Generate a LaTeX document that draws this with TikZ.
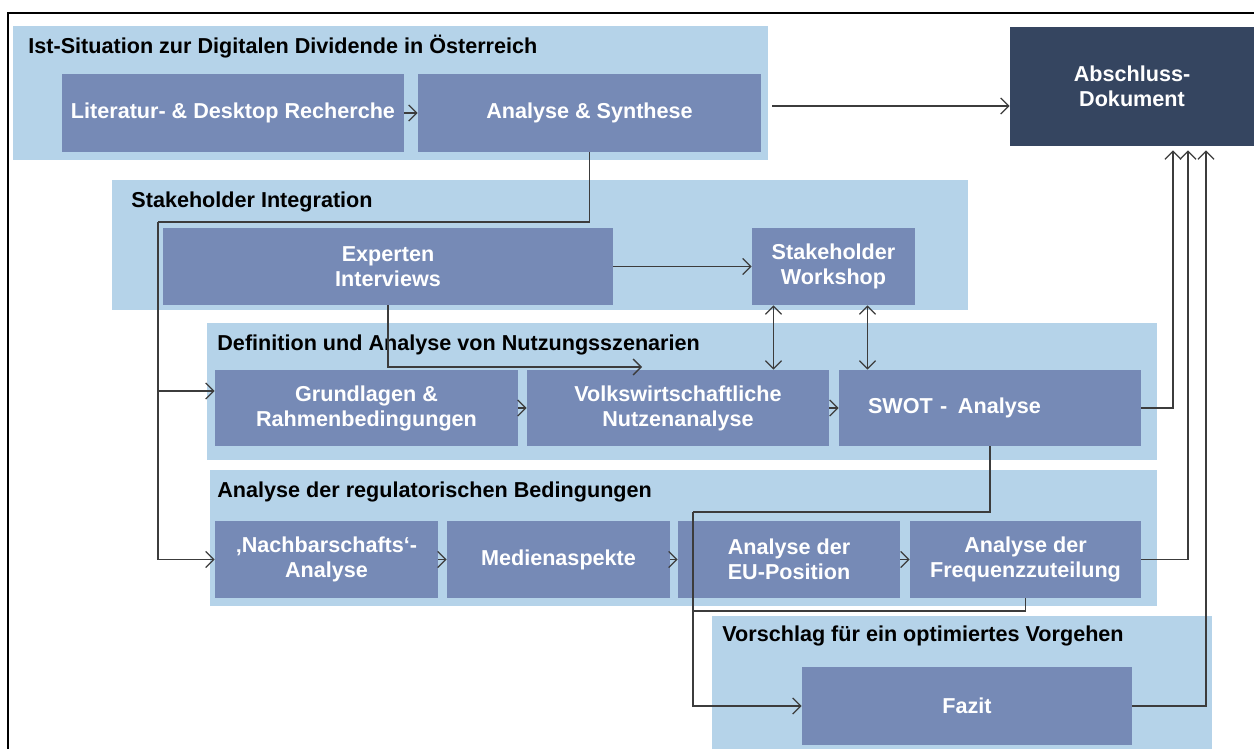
\documentclass[tikz,border=0pt]{standalone}
\usepackage{fontspec}
\setmainfont{Liberation Sans}
\usetikzlibrary{arrows.meta}
\definecolor{grpblue}{RGB}{181,211,233}
\definecolor{boxblue}{RGB}{118,138,182}
\definecolor{docnavy}{RGB}{53,69,96}
\definecolor{linegray}{RGB}{60,60,60}

\begin{document}
\begin{tikzpicture}[
    x=0.5pt, y=-0.5pt,
    grp/.style={rectangle, fill=grpblue, inner sep=0pt},
    box/.style={rectangle, fill=boxblue, text=white, inner sep=0pt, align=center, font=\fontsize{10.8}{12.5}\selectfont\bfseries},
    grptitle/.style={anchor=west, inner sep=0pt, font=\fontsize{10.8}{12.5}\selectfont\bfseries},
    link/.style={draw=linegray, line width=0.65pt},
    arrow/.style={link, -{Straight Barb[length=4pt, width=8pt]}},
    dblarrow/.style={link, {Straight Barb[length=4pt, width=8pt]}-{Straight Barb[length=4pt, width=8pt]}}
]
    \useasboundingbox (0,0) rectangle (1254,749);
    % Frame
    \draw[line width=0.8pt] (8,749) -- (8,13) -- (1254,13);

    % Ist-Situation
    \node[grp, minimum width=377.5pt, minimum height=67pt] (g1) at (390.5,93) {};
    \node[grptitle] (t1) at (28,47) {Ist-Situation zur Digitalen Dividende in Österreich};
    \node[box, minimum width=171pt, minimum height=39pt] (lit) at (233,113) {Literatur- \& Desktop Recherche};
    \node[box, minimum width=171.5pt, minimum height=39pt] (ana) at (589.5,113) {Analyse \& Synthese};

    % Abschluss
    \node[box, fill=docnavy, minimum width=122pt, minimum height=59.5pt] (doc) at (1132,86.5) {Abschluss-\\Dokument};

    % Stakeholder Integration
    \node[grp, minimum width=428pt, minimum height=65pt] (g2) at (540,245) {};
    \node[grptitle] (t2) at (131,202) {Stakeholder Integration};
    \node[box, minimum width=225pt, minimum height=38.5pt] (exp) at (388,266.5) {Experten\\Interviews};
    \node[box, minimum width=81.5pt, minimum height=38.5pt] (ws) at (833.5,266.5) {Stakeholder\\Workshop};

    % Nutzungsszenarien
    \node[grp, minimum width=475pt, minimum height=68.5pt] (g3) at (682,391.5) {};
    \node[grptitle] (t3) at (217,345) {Definition und Analyse von Nutzungsszenarien};
    \node[box, minimum width=151.5pt, minimum height=38pt] (grd) at (366.5,408) {Grundlagen \&\\Rahmenbedingungen};
    \node[box, minimum width=151pt, minimum height=38pt] (vwn) at (678,408) {Volkswirtschaftliche\\Nutzenanalyse};
    \node[box, minimum height=38pt, inner xsep=14.5pt, text width=122pt, align=left] (swot) at (990,408) {SWOT -\enspace Analyse};

    % Regulatorische Bedingungen
    \node[grp, minimum width=473.5pt, minimum height=68pt] (g4) at (683.5,538) {};
    \node[grptitle] (t4) at (217,492) {Analyse der regulatorischen Bedingungen};
    \node[box, minimum width=111.5pt, minimum height=38.5pt] (nach) at (326.5,559.5) {‚Nachbarschafts‘-\\Analyse};
    \node[box, minimum width=111.5pt, minimum height=38.5pt] (med) at (558.5,559.5) {Medienaspekte};
    \node[box, minimum width=111pt, minimum height=38.5pt] (eu) at (789,559.5) {Analyse der\\EU-Position};
    \node[box, minimum width=115.5pt, minimum height=38.5pt] (frq) at (1025.5,559.5) {Analyse der\\Frequenzzuteilung};

    % Vorschlag
    \node[grp, minimum width=250pt, minimum height=72pt] (g5) at (962,688) {};
    \node[grptitle] (t5) at (722,636) {Vorschlag für ein optimiertes Vorgehen};
    \node[box, minimum width=165pt, minimum height=39pt] (fazit) at (967,706) {Fazit};

    % Connectors
    \coordinate (split) at (158,222);
    \coordinate (vtip) at (642,367);
    \coordinate (bend) at (693,512);
    \coordinate (join) at (693,611);
    \coordinate (docin) at ([yshift=-9.75pt]doc.west);
    \coordinate (grdin) at ([yshift=8.5pt]grd.west);

    \draw[arrow] (lit) -- (ana);
    \draw[arrow] ([xshift=2pt]g1.east |- docin) -- (docin);
    \draw[link] (ana.south) |- (split);
    \draw[arrow] (split) |- (nach.west);
    \draw[arrow] (split |- grdin) -- (grdin);
    \draw[arrow] (exp) -- (ws);
    \draw[arrow] (exp.south) |- (vtip);
    \draw[dblarrow] ([xshift=-30pt]ws.south) -- ([xshift=-30pt]ws.south |- vwn.north);
    \draw[dblarrow] ([xshift=17pt]ws.south) -- ([xshift=17pt]ws.south |- swot.north);
    \draw[arrow] (grd) -- (vwn);
    \draw[arrow] (vwn) -- (swot);
    \draw[arrow] (nach) -- (med);
    \draw[arrow] (med) -- (eu);
    \draw[arrow] (eu) -- (frq);
    \draw[arrow] (swot.east) -| ([xshift=20.5pt,yshift=-2pt]doc.south);
    \draw[arrow] (frq.east) -| ([xshift=28pt,yshift=-2pt]doc.south);
    \draw[arrow] (fazit.east) -| ([xshift=37pt,yshift=-2pt]doc.south);
    \draw[link] (swot.south) |- (bend);
    \draw[arrow] (bend) |- (fazit.west);
    \draw[link] (frq.south) |- (join);
\end{tikzpicture}
\end{document}
